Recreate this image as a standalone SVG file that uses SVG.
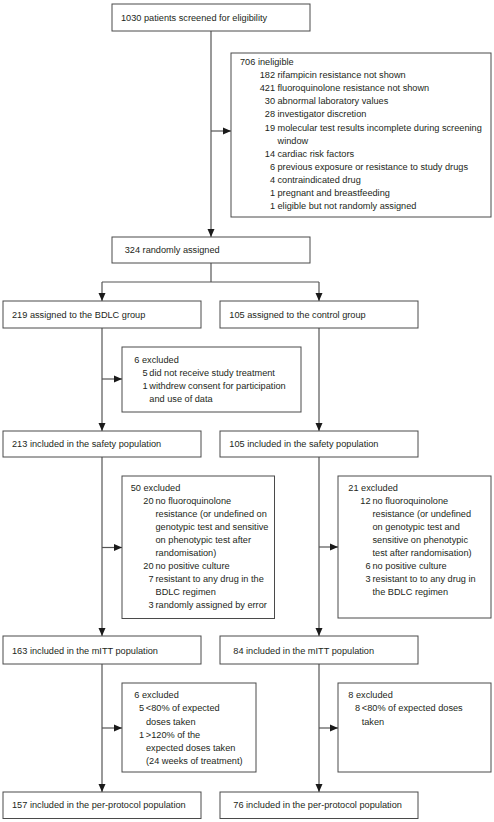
<svg xmlns="http://www.w3.org/2000/svg" width="494" height="822" viewBox="0 0 494 822">
<style>
  .box { fill: #ffffff; stroke: #4a4a4a; stroke-width: 1; }
  .t { font-family: "Liberation Sans", Arial, sans-serif; font-size: 9.2px; fill: #231f20; }
  .n { text-anchor: end; }
  .c { fill: none; stroke: #555555; stroke-width: 1.2; }
</style>
<defs>
  <marker id="ah" viewBox="0 0 8 8" refX="8" refY="4" markerWidth="8" markerHeight="8" markerUnits="userSpaceOnUse" orient="auto">
    <path d="M0,0.5 L8,4 L0,7.5 Z" fill="#1a1a1a"/>
  </marker>
</defs>
<rect width="494" height="822" fill="#ffffff"/>

<g id="connectors">
  <line class="c" x1="211" y1="31" x2="211" y2="237" marker-end="url(#ah)"/>
  <line class="c" x1="211" y1="131" x2="231" y2="131" marker-end="url(#ah)"/>
  <polyline class="c" points="211,263 211,282"/>
  <polyline class="c" points="102,282 319,282"/>
  <line class="c" x1="102" y1="282" x2="102" y2="301" marker-end="url(#ah)"/>
  <line class="c" x1="319" y1="282" x2="319" y2="301" marker-end="url(#ah)"/>
  <line class="c" x1="102" y1="328" x2="102" y2="431" marker-end="url(#ah)"/>
  <line class="c" x1="102" y1="379" x2="122" y2="379" marker-end="url(#ah)"/>
  <line class="c" x1="319" y1="328" x2="319" y2="431" marker-end="url(#ah)"/>
  <line class="c" x1="102" y1="457" x2="102" y2="636" marker-end="url(#ah)"/>
  <line class="c" x1="102" y1="547.5" x2="122" y2="547.5" marker-end="url(#ah)"/>
  <line class="c" x1="319" y1="457" x2="319" y2="636" marker-end="url(#ah)"/>
  <line class="c" x1="319" y1="547" x2="338" y2="547" marker-end="url(#ah)"/>
  <line class="c" x1="102" y1="664" x2="102" y2="792" marker-end="url(#ah)"/>
  <line class="c" x1="102" y1="728" x2="122" y2="728" marker-end="url(#ah)"/>
  <line class="c" x1="319" y1="664" x2="319" y2="792" marker-end="url(#ah)"/>
  <line class="c" x1="319" y1="728" x2="338" y2="728" marker-end="url(#ah)"/>
</g>

<g id="screened">
  <rect class="box" x="112" y="4" width="198" height="27"/>
  <text class="t" x="121" y="20.5">1030 patients screened for eligibility</text>
</g>

<g id="ineligible">
  <rect class="box" x="231" y="53" width="260" height="164"/>
  <text class="t" x="240" y="65">706 ineligible</text>
  <text class="t n" x="275" y="78.1">182</text><text class="t" x="277.5" y="78.1">rifampicin resistance not shown</text>
  <text class="t n" x="275" y="91.2">421</text><text class="t" x="277.5" y="91.2">fluoroquinolone resistance not shown</text>
  <text class="t n" x="275" y="104.3">30</text><text class="t" x="277.5" y="104.3">abnormal laboratory values</text>
  <text class="t n" x="275" y="117.4">28</text><text class="t" x="277.5" y="117.4">investigator discretion</text>
  <text class="t n" x="275" y="130.5">19</text><text class="t" x="277.5" y="130.5">molecular test results incomplete during screening</text>
  <text class="t" x="277.5" y="143.6">window</text>
  <text class="t n" x="275" y="156.7">14</text><text class="t" x="277.5" y="156.7">cardiac risk factors</text>
  <text class="t n" x="275" y="169.8">6</text><text class="t" x="277.5" y="169.8">previous exposure or resistance to study drugs</text>
  <text class="t n" x="275" y="182.9">4</text><text class="t" x="277.5" y="182.9">contraindicated drug</text>
  <text class="t n" x="275" y="196">1</text><text class="t" x="277.5" y="196">pregnant and breastfeeding</text>
  <text class="t n" x="275" y="209.1">1</text><text class="t" x="277.5" y="209.1">eligible but not randomly assigned</text>
</g>

<g id="randomised">
  <rect class="box" x="112" y="237" width="198" height="26"/>
  <text class="t" x="124.7" y="252.6">324 randomly assigned</text>
</g>

<g id="bdlc-assigned">
  <rect class="box" x="3" y="301" width="198" height="27"/>
  <text class="t" x="12" y="317.6">219 assigned to the BDLC group</text>
</g>
<g id="control-assigned">
  <rect class="box" x="220" y="301" width="198" height="27"/>
  <text class="t" x="229.3" y="317.6">105 assigned to the control group</text>
</g>

<g id="bdlc-excluded-1">
  <rect class="box" x="122" y="347" width="179" height="65"/>
  <text class="t" x="134.3" y="362.6">6 excluded</text>
  <text class="t n" x="147.5" y="375.6">5</text><text class="t" x="149.3" y="375.6">did not receive study treatment</text>
  <text class="t n" x="147.5" y="388.6">1</text><text class="t" x="149.3" y="388.6">withdrew consent for participation</text>
  <text class="t" x="149.3" y="401.6">and use of data</text>
</g>

<g id="bdlc-safety">
  <rect class="box" x="3" y="431" width="198" height="26"/>
  <text class="t" x="12" y="447.3">213 included in the safety population</text>
</g>
<g id="control-safety">
  <rect class="box" x="220" y="431" width="198" height="26"/>
  <text class="t" x="229.3" y="447.3">105 included in the safety population</text>
</g>

<g id="bdlc-excluded-2">
  <rect class="box" x="122" y="476" width="152.5" height="142.5"/>
  <text class="t" x="130.7" y="490.6">50 excluded</text>
  <text class="t n" x="153.5" y="503.6">20</text><text class="t" x="155.5" y="503.6">no fluoroquinolone</text>
  <text class="t" x="155.5" y="516.6">resistance (or undefined on</text>
  <text class="t" x="155.5" y="529.6">genotypic test and sensitive</text>
  <text class="t" x="155.5" y="542.6">on phenotypic test after</text>
  <text class="t" x="155.5" y="555.6">randomisation)</text>
  <text class="t n" x="153.5" y="568.6">20</text><text class="t" x="155.5" y="568.6">no positive culture</text>
  <text class="t n" x="153.5" y="581.6">7</text><text class="t" x="155.5" y="581.6">resistant to any drug in the</text>
  <text class="t" x="155.5" y="594.6">BDLC regimen</text>
  <text class="t n" x="153.5" y="607.6">3</text><text class="t" x="155.5" y="607.6">randomly assigned by error</text>
</g>

<g id="control-excluded-2">
  <rect class="box" x="338" y="476" width="153" height="142"/>
  <text class="t" x="348.3" y="490.6">21 excluded</text>
  <text class="t n" x="370.5" y="503.6">12</text><text class="t" x="372.5" y="503.6">no fluoroquinolone</text>
  <text class="t" x="372.5" y="516.6">resistance (or undefined</text>
  <text class="t" x="372.5" y="529.6">on genotypic test and</text>
  <text class="t" x="372.5" y="542.6">sensitive on phenotypic</text>
  <text class="t" x="372.5" y="555.6">test after randomisation)</text>
  <text class="t n" x="370.5" y="568.6">6</text><text class="t" x="372.5" y="568.6">no positive culture</text>
  <text class="t n" x="370.5" y="581.6">3</text><text class="t" x="372.5" y="581.6">resistant to to any drug in</text>
  <text class="t" x="372.5" y="594.6">the BDLC regimen</text>
</g>

<g id="bdlc-mitt">
  <rect class="box" x="3" y="636" width="198" height="28"/>
  <text class="t" x="12" y="654">163 included in the mITT population</text>
</g>
<g id="control-mitt">
  <rect class="box" x="220" y="636" width="198" height="28"/>
  <text class="t" x="233.3" y="654">84 included in the mITT population</text>
</g>

<g id="bdlc-excluded-3">
  <rect class="box" x="122" y="683" width="134" height="89"/>
  <text class="t" x="134.3" y="698.3">6 excluded</text>
  <text class="t n" x="144" y="711.4">5</text><text class="t" x="145.8" y="711.4">&lt;80% of expected</text>
  <text class="t" x="146" y="724.5">doses taken</text>
  <text class="t n" x="144" y="737.6">1</text><text class="t" x="145.8" y="737.6">&gt;120% of the</text>
  <text class="t" x="146" y="750.7">expected doses taken</text>
  <text class="t" x="146" y="763.8">(24 weeks of treatment)</text>
</g>

<g id="control-excluded-3">
  <rect class="box" x="338" y="683" width="153" height="89"/>
  <text class="t" x="348.3" y="698.3">8 excluded</text>
  <text class="t n" x="360" y="711.4">8</text><text class="t" x="361.8" y="711.4">&lt;80% of expected doses</text>
  <text class="t" x="361.7" y="724.5">taken</text>
</g>

<g id="bdlc-pp">
  <rect class="box" x="3" y="792" width="198" height="26.5"/>
  <text class="t" x="12" y="807.8">157 included in the per-protocol population</text>
</g>
<g id="control-pp">
  <rect class="box" x="220" y="792" width="198" height="26.5"/>
  <text class="t" x="233.3" y="807.8">76 included in the per-protocol population</text>
</g>
</svg>
